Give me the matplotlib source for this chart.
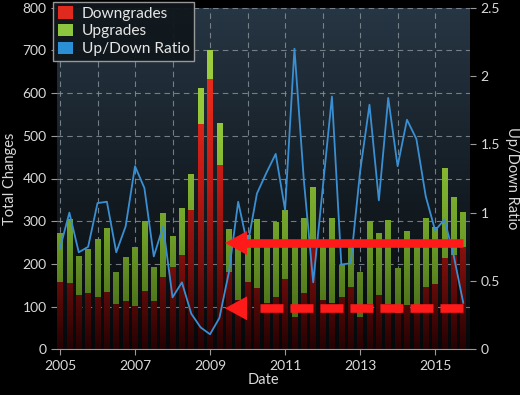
import numpy as np
import matplotlib
matplotlib.use("Agg")
import matplotlib.pyplot as plt
from matplotlib.patches import Polygon, Patch
from matplotlib.colors import LinearSegmentedColormap

plt.rcParams['font.family'] = ['Lato', 'DejaVu Sans']
plt.rcParams['lines.scale_dashes'] = False

# quarterly dates 2005Q1 .. 2015Q4
dates = [2005 + 0.25 * i for i in range(44)]

downgrades = [157, 155, 127, 131, 123, 135, 105, 112, 101, 137, 114, 169,
              192, 221, 326, 528, 632, 432, 180, 115, 158, 143, 108, 123,
              165, 76, 132, 255, 115, 108, 123, 147, 76, 107, 127, 107,
              84, 103, 96, 147, 153, 213, 221, 240]
upgrades = [115, 150, 91, 103, 135, 148, 75, 103, 139, 164, 79, 151,
            73, 111, 84, 83, 68, 97, 101, 124, 110, 161, 139, 176,
            161, 164, 176, 126, 135, 200, 74, 93, 106, 193, 145, 196,
            106, 174, 149, 160, 134, 211, 135, 82]
ratio = [0.74, 1.0, 0.71, 0.75, 1.07, 1.08, 0.71, 0.90, 1.34, 1.18, 0.68, 0.90,
         0.38, 0.49, 0.26, 0.16, 0.11, 0.23, 0.56, 1.08, 0.76, 1.14, 1.29, 1.43,
         1.02, 2.20, 1.24, 0.49, 1.17, 1.85, 0.62, 0.63, 1.30, 1.79, 1.09, 1.84,
         1.34, 1.68, 1.54, 1.12, 0.87, 0.95, 0.68, 0.34]

year_ticks = [2005, 2007, 2009, 2011, 2013, 2015]
left_ticks = [0, 100, 200, 300, 400, 500, 600, 700, 800]
right_ticks = [0, 0.5, 1, 1.5, 2, 2.5]
right_labels = ['0', '0.5', '1', '1.5', '2', '2.5']

# annotation arrows (data coords of the left axis)
arrow_levels = [249, 96]
arrow_tip_x = 2009.4
arrow_end_x = 2015.75

W, H = 520, 395
fig = plt.figure(figsize=(W / 100, H / 100), dpi=100, facecolor='black')
ax = fig.add_axes([57 / W, 1 - 349.3 / H, (470 - 57) / W, (349.3 - 7.7) / H])

TXT = '#d9d9d9'
ax.set_xlim(2004.92, 2015.93)
ax.set_ylim(0, 800)

# background gradient
bg = LinearSegmentedColormap.from_list('bg', ['#05080a', '#151e25', '#273644'])
grad = np.linspace(0, 1, 256).reshape(-1, 1)
ax.imshow(grad, extent=[0, 1, 0, 1], transform=ax.transAxes, cmap=bg,
          origin='lower', aspect='auto', zorder=0)

# grid
for yv in left_ticks[1:]:
    ax.axhline(yv, color='#8a949c', lw=0.8, ls=(0, (4, 3)), zorder=1, alpha=0.8)
for xv in range(2005, 2016):
    ax.axvline(xv, color='#8a949c', lw=0.8, ls=(0, (4, 3)), zorder=1, alpha=0.8)

bw = 0.15
red_cm = LinearSegmentedColormap.from_list('r', ['#250202', '#7a0f0c', '#c21a14', '#e52a1c', '#e52a1c'])
grn_cm = LinearSegmentedColormap.from_list('g', ['#3c5a14', '#6f9f28', '#94c83a', '#a3d340'])
vgrad = np.linspace(0, 1, 400).reshape(-1, 1)

bars_d = ax.bar(dates, downgrades, width=bw, color='#8a1410', zorder=2, linewidth=0)
bars_u = ax.bar(dates, upgrades, bottom=downgrades, width=bw, color='#8dc63f', zorder=2, linewidth=0)
for bars, cm in ((bars_d, red_cm), (bars_u, grn_cm)):
    for p in bars:
        x0 = p.get_x()
        im = ax.imshow(vgrad, extent=[x0, x0 + bw, 0, 800], cmap=cm, origin='lower',
                       aspect='auto', zorder=2.5, vmin=0, vmax=1)
        im.set_clip_path(p)

ax.set_xlim(2004.92, 2015.93)
ax.set_ylim(0, 800)
ax.set_xticks(year_ticks)
ax.set_xticklabels([str(y) for y in year_ticks])
ax.set_yticks(left_ticks)
ax.tick_params(colors=TXT, labelsize=10, length=4, width=0.8, color='#9a9a9a')
for s in ax.spines.values():
    s.set_visible(False)
ax.spines['bottom'].set_visible(True)
ax.spines['bottom'].set_color('#9a9a9a')
ax.set_ylabel('Total Changes', color=TXT, fontsize=10.5, labelpad=4)
ax.set_xlabel('Date', color=TXT, fontsize=10.5, labelpad=1)

ax2 = ax.twinx()
ax2.set_ylim(0, 2.5)
ax2.set_yticks(right_ticks)
ax2.set_yticklabels(right_labels)
ax2.plot(dates, ratio, color='#3a8fd2', lw=1.3, zorder=3)
ax2.tick_params(colors=TXT, labelsize=10, length=4, width=0.8, color='#9a9a9a')
for s in ax2.spines.values():
    s.set_visible(False)
ax2.set_ylabel('Up/Down Ratio', color=TXT, fontsize=10.5, rotation=270, labelpad=14)

# arrows
px_x = 1 / 37.5   # years per pixel
px_y = 1 / 0.427  # units per pixel
head_len = 22 * px_x
head_h = 12 * px_y
for k, yv in enumerate(arrow_levels):
    shaft_start = arrow_tip_x + head_len - 0.05
    if k == 0:
        ax2.plot([shaft_start, arrow_end_x], [yv, yv], color='#ff1a1a', lw=6.2,
                 solid_capstyle='butt', transform=ax.transData, zorder=5)
    else:
        ax2.plot([arrow_end_x, arrow_tip_x + head_len + 11 * px_x], [yv, yv],
                 color='#ff1a1a', lw=6.2, transform=ax.transData, zorder=5,
                 dash_capstyle='butt', linestyle=(0, (16.6, 5.0)))
    tri = Polygon([[arrow_tip_x, yv], [arrow_tip_x + head_len, yv + head_h],
                   [arrow_tip_x + head_len, yv - head_h]], closed=True,
                  facecolor='#ff1a1a', edgecolor='none', transform=ax.transData, zorder=5)
    ax2.add_patch(tri)

handles = [Patch(facecolor='#e02a1e'), Patch(facecolor='#8dc63f'), Patch(facecolor='#2b8fd6')]
leg = ax2.legend(handles, ['Downgrades', 'Upgrades', 'Up/Down Ratio'], loc='upper left',
                 bbox_to_anchor=(53 / W, 1 - 1.5 / H), bbox_transform=fig.transFigure,
                 borderaxespad=0, fontsize=11.2, frameon=True, fancybox=False,
                 handlelength=1.0, handleheight=0.85, handletextpad=0.55, labelspacing=0.2,
                 borderpad=0.3)
leg.get_frame().set_facecolor('#10171c')
leg.get_frame().set_edgecolor('#a0a0a0')
leg.get_frame().set_alpha(0.95)
for t in leg.get_texts():
    t.set_color('#e6e6e6')
leg.set_zorder(10)

fig.savefig('out.png', dpi=100, facecolor='black')
